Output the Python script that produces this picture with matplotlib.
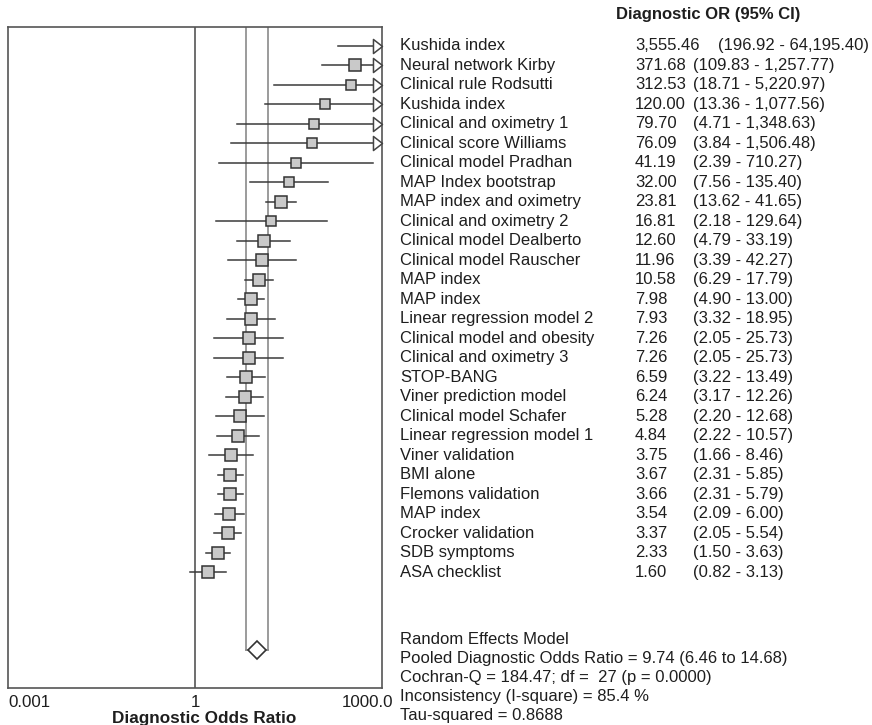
import matplotlib
matplotlib.use("Agg")
import matplotlib.pyplot as plt
import matplotlib.transforms as mtransforms
from matplotlib.path import Path
from matplotlib.ticker import NullLocator
import numpy as np

plt.rcParams["font.family"] = ["Liberation Sans", "DejaVu Sans"]

# Study-level diagnostic odds ratios with 95% CI, top to bottom as printed
STUDIES = [
    "Kushida index", "Neural network Kirby", "Clinical rule Rodsutti", "Kushida index",
    "Clinical and oximetry 1", "Clinical score Williams", "Clinical model Pradhan",
    "MAP Index bootstrap", "MAP index and oximetry", "Clinical and oximetry 2",
    "Clinical model Dealberto", "Clinical model Rauscher", "MAP index", "MAP index",
    "Linear regression model 2", "Clinical model and obesity", "Clinical and oximetry 3",
    "STOP-BANG", "Viner prediction model", "Clinical model Schafer",
    "Linear regression model 1", "Viner validation", "BMI alone", "Flemons validation",
    "MAP index", "Crocker validation", "SDB symptoms", "ASA checklist",
]
DOR = [3555.46, 371.68, 312.53, 120.00, 79.70, 76.09, 41.19, 32.00, 23.81, 16.81,
       12.60, 11.96, 10.58, 7.98, 7.93, 7.26, 7.26, 6.59, 6.24, 5.28, 4.84, 3.75,
       3.67, 3.66, 3.54, 3.37, 2.33, 1.60]
CI_LOW = [196.92, 109.83, 18.71, 13.36, 4.71, 3.84, 2.39, 7.56, 13.62, 2.18, 4.79,
          3.39, 6.29, 4.90, 3.32, 2.05, 2.05, 3.22, 3.17, 2.20, 2.22, 1.66, 2.31,
          2.31, 2.09, 2.05, 1.50, 0.82]
CI_HIGH = [64195.40, 1257.77, 5220.97, 1077.56, 1348.63, 1506.48, 710.27, 135.40,
           41.65, 129.64, 33.19, 42.27, 17.79, 13.00, 18.95, 25.73, 25.73, 13.49,
           12.26, 12.68, 10.57, 8.46, 5.85, 5.79, 6.00, 5.54, 3.63, 3.13]

POOLED = 9.74
POOLED_LOW = 6.46
POOLED_HIGH = 14.68
TAU_SQUARED = 0.8688
SUMMARY_LINES = [
    "Random Effects Model",
    "Pooled Diagnostic Odds Ratio = 9.74 (6.46 to 14.68)",
    "Cochran-Q = 184.47; df =  27 (p = 0.0000)",
    "Inconsistency (I-square) = 85.4 %",
    "Tau-squared = 0.8688",
]
X_TICKS = [0.001, 1, 1000]
X_TICK_LABELS = ["0.001", "1", "1000.0"]

W, H = 872, 725
LINE = "#3a3a3a"
TEXT = "#1e1e1e"
FS = 12

fig = plt.figure(figsize=(W / 100, H / 100), dpi=100)
ax = fig.add_axes([8 / W, 1 - 688 / H, 374 / W, 661 / H])
ax.set_xscale("log")
ax.set_xlim(0.001, 1000)
n = len(STUDIES)
pooled_row = n + 3
ax.set_ylim(pooled_row + 1.95, -0.975)

for s in ax.spines.values():
    s.set_color("#555555")
    s.set_linewidth(1.2)
ax.set_yticks([])
ax.set_xticks(X_TICKS, X_TICK_LABELS)
ax.xaxis.set_minor_locator(NullLocator())
ax.tick_params(axis="x", length=0, pad=5, labelsize=FS + 0.2, colors=TEXT)
tls = ax.get_xticklabels()
tls[0].set_horizontalalignment("left")
tls[2].set_horizontalalignment("right")
tls[2].set_transform(tls[2].get_transform() + mtransforms.ScaledTranslation(11 / 100, 0, fig.dpi_scale_trans))
ax.set_xlabel("Diagnostic Odds Ratio", fontsize=FS + 0.3, fontweight="bold", color=TEXT, labelpad=1)
ax.xaxis.label.set_x((204 - 8) / 374)

# line of no effect and pooled CI band
ax.axvline(1, color="#555555", lw=1.2, zorder=1)
ax.plot([POOLED_LOW, POOLED_LOW], [-0.975, pooled_row], color="#8a8a8a", lw=1.2, zorder=1)
ax.plot([POOLED_HIGH, POOLED_HIGH], [-0.975, pooled_row], color="#8a8a8a", lw=1.2, zorder=1)
ax.plot([POOLED_LOW, POOLED_HIGH], [pooled_row, pooled_row], color="#8a8a8a", lw=1.2, zorder=1)
ax.plot([POOLED], [pooled_row], marker="D", ms=9.2, mfc="white", mec="#333333", mew=1.2, zorder=4)

# marker size from random-effects weight
lo = np.array(CI_LOW)
hi = np.array(CI_HIGH)
se = (np.log(hi) - np.log(lo)) / 3.92
w = 1 / (se ** 2 + TAU_SQUARED)
size_px = 8 + 4.5 * w / w.max()

arrow = Path([(-9, -7), (0, 0), (-9, 7), (-9, -7)], closed=True)
xmax = ax.get_xlim()[1]
for i in range(n):
    right = min(CI_HIGH[i], xmax)
    ax.plot([CI_LOW[i], right], [i, i], color=LINE, lw=1.1, zorder=2)
    if CI_HIGH[i] > xmax:
        ax.plot([xmax], [i], marker=arrow, ms=13, mfc="white", mec="#444444", mew=1.1,
                clip_on=False, zorder=3)
    if DOR[i] < xmax:
        ax.plot([DOR[i]], [i], marker="s", ms=size_px[i] * 0.72, mfc="#c9c9c9",
                mec="#333333", mew=1.1, zorder=3)

# right-hand text table
tr = mtransforms.blended_transform_factory(fig.transFigure, ax.transData)
for i in range(n):
    ax.text(400 / W, i, STUDIES[i], transform=tr, fontsize=FS, color=TEXT, va="center", ha="left")
    ax.text(635 / W, i, f"{DOR[i]:,.2f}", transform=tr, fontsize=FS, color=TEXT, va="center", ha="left")
    ci_x = 718 if DOR[i] >= 1000 else 693
    ax.text(ci_x / W, i, f"({CI_LOW[i]:,.2f} - {CI_HIGH[i]:,.2f})", transform=tr,
            fontsize=FS, color=TEXT, va="center", ha="left")

fig.text(616 / W, 1 - 15 / H, "Diagnostic OR (95% CI)", fontsize=FS, fontweight="bold",
         color=TEXT, va="center", ha="left")

for k, line in enumerate(SUMMARY_LINES):
    fig.text(400 / W, 1 - (639 + 19.2 * k) / H, line, fontsize=FS, color=TEXT, va="center", ha="left")

fig.savefig("out.png", dpi=100)
